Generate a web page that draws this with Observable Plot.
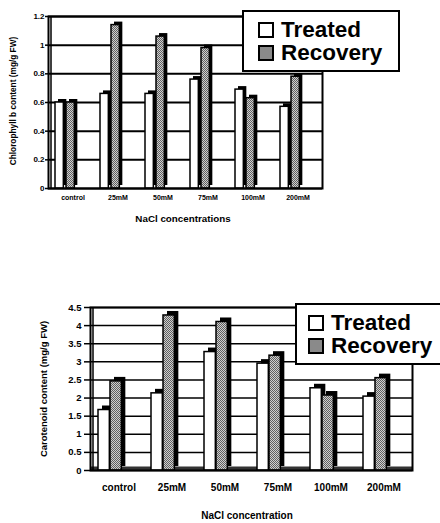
<!DOCTYPE html>
<html>
<head>
<meta charset="utf-8">
<script src="https://cdn.jsdelivr.net/npm/d3@7"></script>
<script src="https://cdn.jsdelivr.net/npm/@observablehq/plot@0.6"></script>
<style>
  html, body { margin: 0; padding: 0; background: #fff; }
  body { font-family: "Liberation Sans", Arial, sans-serif; }
  #wrap { position: relative; width: 440px; height: 523px; overflow: hidden; }
  .chart { position: absolute; left: 0; }
  .legend { position: absolute; border: 2px solid #000; background: #fff; box-sizing: border-box;
            font-weight: bold; font-size: 22.5px; line-height: 23px; color: #000; }
  .legend .row { display: flex; align-items: center; white-space: nowrap; }
  .legend .sw { width: 12px; height: 12px; border: 2px solid #000; margin-right: 7px; flex: none; }
</style>
</head>
<body>
<div id="wrap"></div>
<script>
// ---- data ----
const categories = ["control", "25mM", "50mM", "75mM", "100mM", "200mM"];
const seriesNames = ["Treated", "Recovery"];
const chlTreated  = [0.60, 0.66, 0.66, 0.76, 0.69, 0.57];
const chlRecovery = [0.60, 1.14, 1.06, 0.98, 0.63, 0.78];
const carTreated  = [1.67, 2.13, 3.27, 2.95, 2.27, 2.04];
const carRecovery = [2.46, 4.28, 4.10, 3.17, 2.07, 2.55];
const chlTicks = [0, 0.2, 0.4, 0.6, 0.8, 1, 1.2];
const carTicks = [0, 0.5, 1, 1.5, 2, 2.5, 3, 3.5, 4, 4.5];
const chlYLabel = "Chlorophyll b content (mg/g FW)";
const chlXLabel = "NaCl concentrations";
const carYLabel = "Carotenoid content (mg/g FW)";
const carXLabel = "NaCl concentration";

const wrap = document.getElementById("wrap");

function makeChart(cfg) {
  const data = categories.map((c, i) => ({cat: c, treated: cfg.treated[i], recovery: cfg.recovery[i]}));
  const bw = (440 - cfg.ml - cfg.mr) / categories.length;
  const [tL, tR] = cfg.barT; // front face offsets within band
  const [rL, rR] = cfg.barR;
  const d = cfg.depth;
  const patId = cfg.patId;
  const fmt = v => String(+v.toFixed(1));
  const svg = Plot.plot({
    width: 440,
    height: cfg.height,
    marginLeft: cfg.ml, marginRight: cfg.mr, marginTop: cfg.mt, marginBottom: cfg.mb,
    style: {overflow: "visible", background: "transparent"},
    x: {type: "band", domain: categories, padding: 0, axis: null},
    y: {domain: [0, cfg.ticks[cfg.ticks.length - 1]], axis: null},
    marks: [
      Plot.ruleY(cfg.ticks, {y: v => v, stroke: "#000", strokeWidth: cfg.gridW}),
      cfg.floor ? Plot.ruleY([0], {stroke: "#333", strokeWidth: 4, dy: -2}) : null,
      // Treated: depth then front
      Plot.barY(data, {x: "cat", y: "treated", insetLeft: tL, insetRight: bw - tR, dx: d, dy: -d, fill: "#000"}),
      Plot.barY(data, {x: "cat", y: "treated", insetLeft: tL, insetRight: bw - tR, fill: "#fff", stroke: "#000", strokeWidth: 1.5}),
      // Recovery: depth then front
      Plot.barY(data, {x: "cat", y: "recovery", insetLeft: rL, insetRight: bw - rR, dx: d, dy: -d, fill: "#000"}),
      Plot.barY(data, {x: "cat", y: "recovery", insetLeft: rL, insetRight: bw - rR, fill: `url(#${patId})`, stroke: "#000", strokeWidth: 1.5}),
      Plot.frame({stroke: "#000", strokeWidth: 2}),
      Plot.axisY(cfg.ticks, {anchor: "left", tickFormat: fmt, tickSize: cfg.tickSize, tickPadding: cfg.tickPad,
        fontSize: cfg.yFs, fontWeight: "bold", stroke: "#000", strokeWidth: 1.5, label: null}),
      Plot.axisX({anchor: "bottom", tickSize: 0, tickPadding: cfg.xPad, fontSize: cfg.xFs, fontWeight: "bold", label: null})
    ]
  });
  const s = d3.select(svg);
  const defs = s.insert("defs", ":first-child");
  const p = defs.append("pattern").attr("id", patId).attr("width", 2).attr("height", 2)
    .attr("patternUnits", "userSpaceOnUse");
  p.append("rect").attr("width", 2).attr("height", 2).attr("fill", "#cfcfcf");
  p.append("rect").attr("width", 1).attr("height", 1).attr("fill", "#606060");
  p.append("rect").attr("x", 1).attr("y", 1).attr("width", 1).attr("height", 1).attr("fill", "#606060");
  // inner left wall line
  s.append("line").attr("x1", cfg.ml + 3).attr("x2", cfg.ml + 3)
    .attr("y1", cfg.mt).attr("y2", cfg.height - cfg.mb).attr("stroke", "#000").attr("stroke-width", 1.5);
  // axis titles
  s.append("text").attr("transform", `translate(${cfg.yTitleX},${cfg.yTitleY}) rotate(-90)`)
    .attr("text-anchor", "middle").attr("dominant-baseline", "central")
    .attr("font-size", cfg.yTitleFs).attr("font-weight", "bold").attr("fill", "#000")
    .attr("font-family", "Liberation Sans, Arial, sans-serif").text(cfg.yLabel);
  s.append("text").attr("x", cfg.xTitleX).attr("y", cfg.xTitleY)
    .attr("text-anchor", "middle").attr("dominant-baseline", "central")
    .attr("font-size", cfg.xTitleFs).attr("font-weight", "bold").attr("fill", "#000")
    .attr("font-family", "Liberation Sans, Arial, sans-serif").text(cfg.xLabel);
  svg.setAttribute("class", "chart");
  svg.style.top = cfg.top + "px";
  svg.style.fontFamily = "Liberation Sans, Arial, sans-serif";
  wrap.appendChild(svg);

  const lg = document.createElement("div");
  lg.className = "legend";
  Object.assign(lg.style, {left: cfg.lg.left + "px", top: cfg.lg.top + "px", width: cfg.lg.w + "px",
    height: cfg.lg.h + "px", paddingLeft: cfg.lg.pl + "px", paddingTop: cfg.lg.pt + "px"});
  seriesNames.forEach((name, i) => {
    const row = document.createElement("div");
    row.className = "row";
    const sw = document.createElement("span");
    sw.className = "sw";
    sw.style.background = i === 0 ? "#fff" : "#8a8a8a";
    row.appendChild(sw);
    row.appendChild(document.createTextNode(name));
    lg.appendChild(row);
  });
  wrap.appendChild(lg);
}

makeChart({
  treated: chlTreated, recovery: chlRecovery, ticks: chlTicks, patId: "pat1",
  top: 0, height: 230, ml: 48, mr: 118, mt: 16, mb: 42,
  barT: [5, 14], barR: [16, 25], depth: 3, gridW: 2,
  tickSize: 3, tickPad: 1, yFs: 8, xFs: 7, xPad: 7,
  yLabel: chlYLabel, yTitleX: 13, yTitleY: 101, yTitleFs: 8.3,
  xLabel: chlXLabel, xTitleX: 183, xTitleY: 218, xTitleFs: 9.8,
  lg: {left: 242, top: 10, w: 158, h: 62, pl: 14, pt: 6}
});

makeChart({
  treated: carTreated, recovery: carRecovery, ticks: carTicks, patId: "pat2", floor: true,
  top: 290, height: 233, ml: 90, mr: 28, mt: 17, mb: 53,
  barT: [6, 18], barR: [18, 30], depth: 4, gridW: 1.5,
  tickSize: 6, tickPad: 3, yFs: 9.5, xFs: 10, xPad: 13,
  yLabel: carYLabel, yTitleX: 43, yTitleY: 99, yTitleFs: 9.5,
  xLabel: carXLabel, xTitleX: 247, xTitleY: 225, xTitleFs: 10,
  lg: {left: 295, top: 303, w: 150, h: 62, pl: 11, pt: 6}
});
</script>
</body>
</html>
